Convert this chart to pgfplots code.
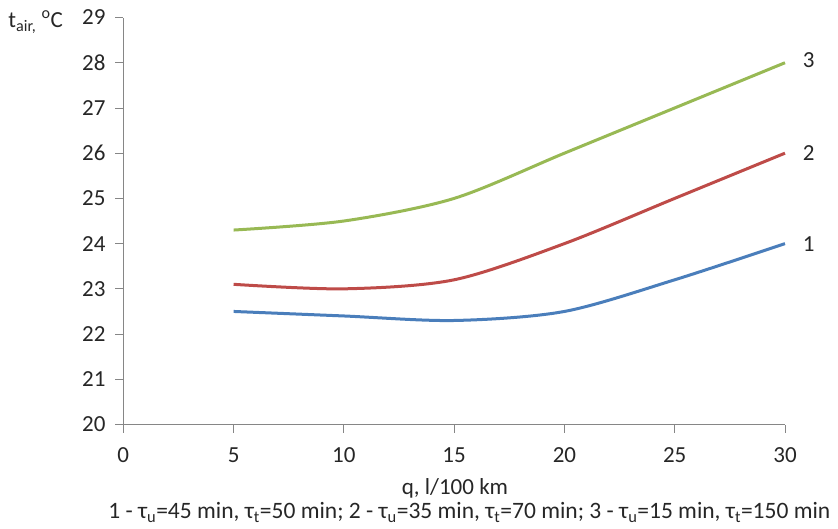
\documentclass[border=0pt]{standalone}
\usepackage{fontspec}
\setmainfont{Carlito}
\usepackage{pgfplots}
\pgfplotsset{compat=1.18}
\definecolor{c1}{RGB}{74,126,187}
\definecolor{c2}{RGB}{190,75,72}
\definecolor{c3}{RGB}{152,185,84}
\definecolor{axc}{RGB}{134,134,134}
\definecolor{txt}{RGB}{38,38,38}
\begin{document}
\fontsize{23}{27}\selectfont
\begin{tikzpicture}
\path[use as bounding box] (-123.3pt,-103.5pt) rectangle (714.7pt,424.5pt);
\begin{axis}[
  at={(0pt,0pt)}, anchor=south west,
  scale only axis, width=661.7pt, height=407pt,
  xmin=0, xmax=30, ymin=20, ymax=29,
  xtick={0,5,...,30}, ytick={20,21,...,29},
  axis x line*=bottom, axis y line*=left,
  axis line style={axc, line width=0.9pt},
  tick style={axc, line width=0.9pt},
  tick align=outside, major tick length=8pt,
  /pgf/number format/assume math mode=true,
  tick label style={font=\fontsize{23}{27}\selectfont, text=txt},
  xticklabel style={yshift=-7pt},
  yticklabel style={xshift=-2pt},
  clip=false,
]
\addplot[c1, line width=3pt, smooth] coordinates {(5,22.5) (10,22.4) (15,22.3) (20,22.5) (25,23.2) (30,24.0)};
\addplot[c2, line width=3pt, smooth] coordinates {(5,23.1) (10,23.0) (15,23.2) (20,24.0) (25,25.0) (30,26.0)};
\addplot[c3, line width=3pt, smooth] coordinates {(5,24.3) (10,24.5) (15,25.0) (20,26.0) (25,27.0) (30,28.0)};
\node[anchor=west, text=txt, xshift=10pt] at (axis cs:30,24.0) {1};
\node[anchor=west, text=txt, xshift=10pt] at (axis cs:30,26.0) {2};
\node[anchor=west, text=txt, xshift=10pt, yshift=3pt] at (axis cs:30,28.0) {3};
\end{axis}
\node[anchor=base west, text=txt, inner sep=0pt] at (-115pt,396.5pt) {t\textsubscript{air,} \textsuperscript{o}C};
\node[text=txt] at (331.7pt,-64pt) {q, l/100 km};
\node[text=txt, font=\fontsize{23.5}{27}\selectfont, inner sep=0pt] at (346pt,-88pt) {1 - τ\textsubscript{u}=45 min, τ\textsubscript{t}=50 min; 2 - τ\textsubscript{u}=35 min, τ\textsubscript{t}=70 min;  3 - τ\textsubscript{u}=15 min, τ\textsubscript{t}=150 min};
\end{tikzpicture}
\end{document}
